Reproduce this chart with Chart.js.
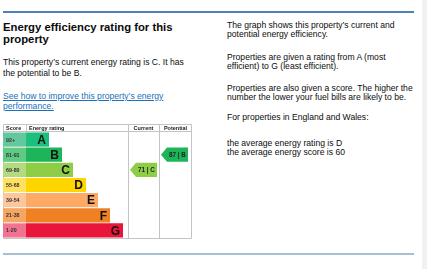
<!DOCTYPE html>
<html>
<head>
<meta charset="utf-8">
<script src="https://cdn.jsdelivr.net/npm/chart.js@4.4.1/dist/chart.umd.min.js"></script>
<style>
  html, body { margin: 0; padding: 0; background: #fff; width: 427px; height: 269px; overflow: hidden; }
  body { position: relative; font-family: Arial, "Liberation Sans", sans-serif; color: #0b0c0c; }
  .rule { position: absolute; left: 3px; width: 411px; }
  .txt { position: absolute; margin: 0; font-size: 8.6px; line-height: 9.3px; white-space: nowrap; }
  h2 { position: absolute; margin: 0; left: 3px; top: 21px; font-size: 11.3px; line-height: 12px; font-weight: bold; }
  a { color: #1d70b8; }
  #strip { position: absolute; left: 422px; top: 0; width: 5px; height: 269px; background: #f1f1f1; }
  #chartBox { position: absolute; left: 0; top: 118px; width: 200px; height: 126px; }
</style>
</head>
<body>
<div class="rule" style="top:11px;height:1.5px;background:#4f82b2"></div>
<div class="rule" style="top:253px;height:1.5px;background:#a6bfd5"></div>
<div id="strip"></div>

<h2>Energy efficiency rating for this<br>property</h2>
<p class="txt" style="left:3px;top:57px;line-height:10.5px">This property’s current energy rating is C. It has<br>the potential to be B.</p>
<p class="txt" style="left:3px;top:91px;line-height:10px"><a href="#">See how to improve this property’s energy<br>performance.</a></p>

<p class="txt" style="left:227px;top:21px">The graph shows this property’s current and<br>potential energy efficiency.</p>
<p class="txt" style="left:227px;top:53px">Properties are given a rating from A (most<br>efficient) to G (least efficient).</p>
<p class="txt" style="left:227px;top:84px">Properties are also given a score. The higher the<br>number the lower your fuel bills are likely to be.</p>
<p class="txt" style="left:227px;top:113px">For properties in England and Wales:</p>
<p class="txt" style="left:227px;top:139px">the average energy rating is D<br>the average energy score is 60</p>

<div id="chartBox"><canvas id="epcChart" width="200" height="126"></canvas></div>

<script>
// Bands, score ranges and relative bar lengths of the rating graph
const bands = ['A', 'B', 'C', 'D', 'E', 'F', 'G'];
const scoreRanges = ['92+', '81-91', '69-80', '55-68', '39-54', '21-38', '1-20'];
const bandMinScore = [92, 81, 69, 55, 39, 21, 1];
const barLengths = [23, 36, 47, 60, 72, 84, 97];
const headers = ['Score', 'Energy rating', 'Current', 'Potential'];
const currentScore = 71;
const potentialScore = 87;

// colours
const bandColors = ['#1cc07d', '#1eb45a', '#8dce46', '#ffd500', '#fcaa65', '#ef8023', '#e9153b'];
const scoreColors = ['#63c89d', '#5fca84', '#b2da7e', '#ffe161', '#fdc79c', '#f5a663', '#f27391'];

// table columns in x-scale units
const COL_SCORE = 0, COL_RATING = 23, COL_CURRENT = 125, COL_POTENTIAL = 156, COL_END = 189;

function bandOf(score) {
    return bandMinScore.findIndex(m => score >= m);
}

const epcTable = {
    id: 'epcTable',
    beforeDatasetsDraw(chart) {
        const ctx = chart.ctx;
        const x = chart.scales.x;
        const area = chart.chartArea;
        const top = area.top - 8;
        ctx.save();
        ctx.strokeStyle = '#c4c4c4';
        ctx.lineWidth = 1;
        ctx.beginPath();
        // outer border
        ctx.rect(Math.round(x.getPixelForValue(COL_SCORE)) + 0.5, top + 0.5,
            Math.round(x.getPixelForValue(COL_END) - x.getPixelForValue(COL_SCORE)) - 1, area.bottom - top);
        // header bottom
        ctx.moveTo(x.getPixelForValue(COL_SCORE), area.top - 0.5);
        ctx.lineTo(x.getPixelForValue(COL_END), area.top - 0.5);
        // column separators
        [COL_CURRENT, COL_POTENTIAL].forEach(c => {
            const px = Math.round(x.getPixelForValue(c)) + 0.5;
            ctx.moveTo(px, top);
            ctx.lineTo(px, area.bottom);
        });
        const sp = Math.round(x.getPixelForValue(COL_RATING)) + 0.5;
        ctx.moveTo(sp, top);
        ctx.lineTo(sp, area.top);
        ctx.stroke();

        // header labels
        ctx.fillStyle = '#222';
        ctx.font = 'bold 5.5px Arial, "Liberation Sans", sans-serif';
        ctx.textBaseline = 'middle';
        const hy = top + 4.5;
        ctx.textAlign = 'left';
        ctx.fillText(headers[0], x.getPixelForValue(COL_SCORE) + 3, hy);
        ctx.fillText(headers[1], x.getPixelForValue(COL_RATING) + 3, hy);
        ctx.textAlign = 'center';
        ctx.fillText(headers[2], (x.getPixelForValue(COL_CURRENT) + x.getPixelForValue(COL_POTENTIAL)) / 2, hy);
        ctx.fillText(headers[3], (x.getPixelForValue(COL_POTENTIAL) + x.getPixelForValue(COL_END)) / 2, hy);
        ctx.restore();
    },
    afterDatasetsDraw(chart) {
        const ctx = chart.ctx;
        const x = chart.scales.x;
        const y = chart.scales.y;
        const bars = chart.getDatasetMeta(1).data;
        ctx.save();
        ctx.textBaseline = 'middle';

        // score labels
        ctx.fillStyle = '#333';
        ctx.font = 'bold 5.3px Arial, "Liberation Sans", sans-serif';
        ctx.textAlign = 'left';
        scoreRanges.forEach((s, i) => {
            ctx.fillText(s, x.getPixelForValue(COL_SCORE) + 3, y.getPixelForValue(i) + 0.5);
        });

        // band letters at the bar ends
        ctx.fillStyle = '#111';
        ctx.font = 'bold 12px Arial, "Liberation Sans", sans-serif';
        ctx.textAlign = 'right';
        bands.forEach((b, i) => {
            ctx.fillText(b, bars[i].x - 3, y.getPixelForValue(i) + 1);
        });

        // current and potential arrows
        const h = bars[0].height;
        function arrow(score, c0, c1) {
            const i = bandOf(score);
            const cy = y.getPixelForValue(i);
            const x0 = x.getPixelForValue(c0);
            const x1 = x.getPixelForValue(c1);
            ctx.fillStyle = bandColors[i];
            ctx.beginPath();
            ctx.moveTo(x0, cy);
            ctx.lineTo(x0 + 6, cy - h / 2);
            ctx.lineTo(x1, cy - h / 2);
            ctx.lineTo(x1, cy + h / 2);
            ctx.lineTo(x0 + 6, cy + h / 2);
            ctx.closePath();
            ctx.fill();
            ctx.fillStyle = '#222';
            ctx.font = 'bold 6.3px Arial, "Liberation Sans", sans-serif';
            ctx.textAlign = 'center';
            ctx.fillText(score + ' | ' + bands[i], (x0 + 6 + x1) / 2, cy + 0.5);
        }
        arrow(currentScore, COL_CURRENT + 2, COL_POTENTIAL - 2);
        arrow(potentialScore, COL_POTENTIAL + 2, COL_END - 4);
        ctx.restore();
    }
};

const ctx = document.getElementById('epcChart').getContext('2d');
const epcChart = new Chart(ctx, {
    type: 'bar',
    data: {
        labels: bands,
        datasets: [{
            label: 'Score',
            data: scoreRanges.map(() => [COL_SCORE, COL_RATING]),
            backgroundColor: scoreColors,
            grouped: false
        }, {
            label: 'Energy rating',
            data: barLengths.map(l => [COL_RATING, COL_RATING + l]),
            backgroundColor: bandColors,
            grouped: false
        }]
    },
    options: {
        indexAxis: 'y',
        responsive: false,
        animation: false,
        devicePixelRatio: 1,
        barPercentage: 1,
        categoryPercentage: 0.94,
        layout: { padding: { left: 3, right: 8, top: 14, bottom: 6 } },
        scales: {
            x: { type: 'linear', min: COL_SCORE, max: COL_END, display: false },
            y: { display: false }
        },
        plugins: {
            legend: { display: false },
            tooltip: { enabled: false }
        }
    },
    plugins: [epcTable]
});
</script>
</body>
</html>
